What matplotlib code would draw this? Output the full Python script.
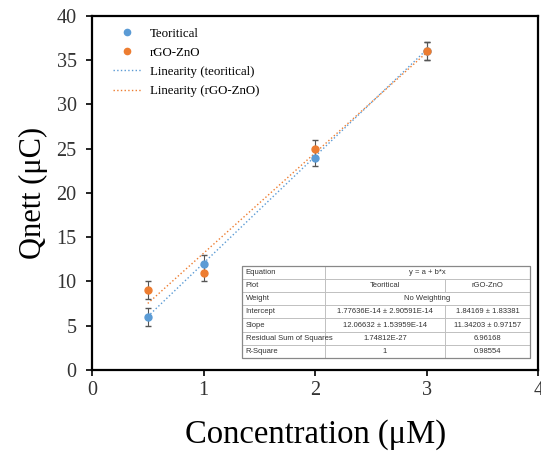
import numpy as np
import matplotlib.pyplot as plt
from matplotlib.patches import Rectangle
from matplotlib.lines import Line2D

conc = [0.5, 1, 2, 3]
q_teo = [6, 12, 24, 36]
q_rgo = [9, 11, 25, 36]
err_teo = [1.0, 1.0, 1.0, 1.0]
err_rgo = [1.0, 1.0, 1.0, 1.0]

# fit results (from the table)
a_teo, b_teo = 1.77636e-14, 12.06632
a_rgo, b_rgo = 1.84169, 11.34203

table_rows = [
    ['Equation', 'y = a + b*x', None],
    ['Plot', 'Teoritical', 'rGO-ZnO'],
    ['Weight', 'No Weighting', None],
    ['Intercept', '1.77636E-14 ± 2.90591E-14', '1.84169 ± 1.83381'],
    ['Slope', '12.06632 ± 1.53959E-14', '11.34203 ± 0.97157'],
    ['Residual Sum of Squares', '1.74812E-27', '6.96168'],
    ['R-Square', '1', '0.98554'],
]

blue = '#5b9bd5'
orange = '#ed7d31'
serif = ['Liberation Serif', 'DejaVu Serif']

fig = plt.figure(figsize=(5.41, 4.55), dpi=100)
ax = fig.add_axes([0.170, 0.187, 0.825, 0.778])

ax.errorbar(conc, q_teo, yerr=err_teo, fmt='o', color=blue, ms=5,
            ecolor='#555555', elinewidth=0.8, capsize=2.5, zorder=3)
ax.errorbar(conc, q_rgo, yerr=err_rgo, fmt='o', color=orange, ms=5,
            ecolor='#555555', elinewidth=0.8, capsize=2.5, zorder=3)

t = np.array([0.5, 3])
ax.plot(t, a_teo + b_teo * t, ':', color=blue, lw=1)
ax.plot(t, a_rgo + b_rgo * t, ':', color=orange, lw=1)

ax.set_xlim(0, 4)
ax.set_ylim(0, 40)
ax.set_xticks([0, 1, 2, 3, 4])
ax.set_yticks(range(0, 41, 5))
for s in ax.spines.values():
    s.set_linewidth(1.6)
ax.tick_params(axis='y', labelsize=14.5, width=1.2, length=4, pad=7)
ax.tick_params(axis='x', labelsize=14.5, width=1.2, length=4, pad=4)
for lab in ax.get_xticklabels() + ax.get_yticklabels():
    lab.set_family(serif)
    lab.set_color('#333333')

ax.set_xlabel('Concentration (μM)', fontsize=23.5, family=serif, labelpad=14)
ax.set_ylabel('Qnett (μC)', fontsize=22, family=serif, labelpad=6)

handles = [
    Line2D([], [], ls='none', marker='o', color=blue, ms=4.5),
    Line2D([], [], ls='none', marker='o', color=orange, ms=4.5),
    Line2D([], [], ls=':', color=blue, lw=1),
    Line2D([], [], ls=':', color=orange, lw=1),
]
labels = ['Teoritical', 'rGO-ZnO', 'Linearity (teoritical)', 'Linearity (rGO-ZnO)']
ax.legend(handles, labels, loc='upper left', bbox_to_anchor=(0.02, 1.0), frameon=False,
          prop={'family': serif, 'size': 9.3}, handlelength=2.3, handletextpad=0.6,
          labelspacing=0.55)

# results table drawn in axes coordinates
x0, x1, x2, x3 = 0.336, 0.522, 0.791, 0.982
y_top, y_bot = 0.294, 0.034
rh = (y_top - y_bot) / len(table_rows)
for i, row in enumerate(table_rows):
    yt = y_top - i * rh
    ax.add_patch(Rectangle((x0, yt - rh), x1 - x0, rh, transform=ax.transAxes,
                           fc='white', ec='#bbbbbb', lw=0.6, zorder=4))
    ax.text(x0 + 0.008, yt - rh / 2, row[0], transform=ax.transAxes, fontsize=5.5,
            family='Liberation Sans', va='center', ha='left', zorder=5, color='#333333')
    if row[2] is None:
        ax.add_patch(Rectangle((x1, yt - rh), x3 - x1, rh, transform=ax.transAxes,
                               fc='white', ec='#bbbbbb', lw=0.6, zorder=4))
        ax.text((x1 + x3) / 2, yt - rh / 2, row[1], transform=ax.transAxes, fontsize=5.5,
                family='Liberation Sans', va='center', ha='center', zorder=5, color='#333333')
    else:
        for (a, b), txt in zip([(x1, x2), (x2, x3)], row[1:]):
            ax.add_patch(Rectangle((a, yt - rh), b - a, rh, transform=ax.transAxes,
                                   fc='white', ec='#bbbbbb', lw=0.6, zorder=4))
            ax.text((a + b) / 2, yt - rh / 2, txt, transform=ax.transAxes, fontsize=5.5,
                    family='Liberation Sans', va='center', ha='center', zorder=5, color='#333333')
ax.add_patch(Rectangle((x0, y_bot), x3 - x0, y_top - y_bot, transform=ax.transAxes,
                       fc='none', ec='#888888', lw=0.9, zorder=6))

fig.savefig('out.png', dpi=100)
